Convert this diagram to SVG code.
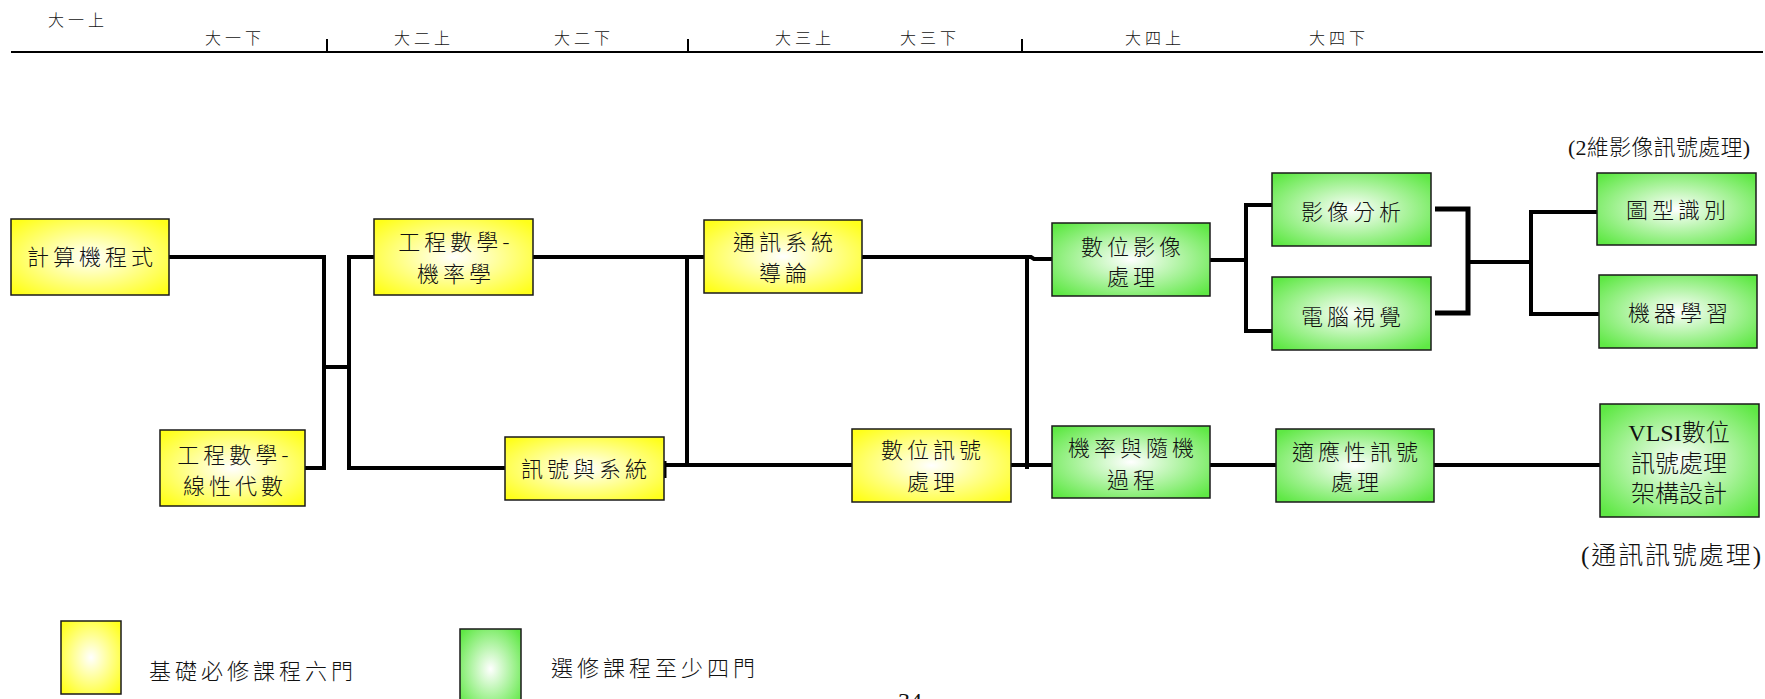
<svg xmlns="http://www.w3.org/2000/svg" width="1765" height="699" viewBox="0 0 1765 699">
<defs>
<radialGradient id="gy" cx="0.5" cy="0.5" r="0.65">
<stop offset="0" stop-color="#ffffff"/>
<stop offset="1" stop-color="#ffff1a"/>
</radialGradient>
<radialGradient id="gg" cx="0.5" cy="0.5" r="0.65">
<stop offset="0" stop-color="#ffffff"/>
<stop offset="1" stop-color="#5fe845"/>
</radialGradient>
</defs>
<style>
.y{fill:url(#gy);stroke:#1a1a1a;stroke-width:1.5}
.g{fill:url(#gg);stroke:#1a1a1a;stroke-width:1.5}
.t{font-family:"Noto Sans CJK TC","Noto Sans CJK SC",sans-serif;font-weight:300;font-size:22px;letter-spacing:4px;text-anchor:middle;fill:#111}
.s{font-family:"Liberation Serif","Noto Sans CJK TC",serif;font-weight:300;font-size:24px;text-anchor:middle;fill:#111}
.h{font-family:"Noto Sans CJK TC","Noto Sans CJK SC",sans-serif;font-weight:300;font-size:16px;letter-spacing:4px;text-anchor:middle;fill:#111}
.n{font-family:"Liberation Serif","Noto Sans CJK TC",serif;font-weight:300;fill:#111}
.c{fill:none;stroke:#000;stroke-width:4;stroke-linejoin:miter;stroke-linecap:butt}
.c5{fill:none;stroke:#000;stroke-width:5}
.tl{fill:none;stroke:#000;stroke-width:2}
</style>
<rect width="1765" height="699" fill="#fff"/>
<g id="timeline">
<path class="tl" d="M11,52 H1763 M327,39 V52 M688,39 V52 M1022,39 V52"/>
<text class="h" x="78" y="26">大一上</text>
<text class="h" x="235" y="44">大一下</text>
<text class="h" x="424" y="44">大二上</text>
<text class="h" x="584" y="44">大二下</text>
<text class="h" x="805" y="44">大三上</text>
<text class="h" x="930" y="44">大三下</text>
<text class="h" x="1155" y="44">大四上</text>
<text class="h" x="1339" y="44">大四下</text>
</g>
<g id="connectors">
<path class="c" d="M169,257 H324 V468 H305"/>
<path class="c" d="M324,367 H349"/>
<path class="c" d="M374,257 H349 V468 H505"/>
<path class="c" d="M533,257 H704"/>
<path class="c" d="M687,257 V467"/>
<path class="c" d="M664,465 H852"/>
<path class="c5" d="M664,461 V478"/>
<path class="c" d="M862,257 H1031 L1034,259 H1052"/>
<path class="c" d="M1027,257 V469"/>
<path class="c" d="M1011,465 H1052"/>
<path class="c" d="M1210,260 H1246"/>
<path class="c" d="M1272,205 H1246 V331 H1272"/>
<path class="c5" d="M1435,209 H1468 V313 H1435"/>
<path class="c" d="M1468,262 H1531"/>
<path class="c" d="M1597,212 H1531 V314 H1599"/>
<path class="c" d="M1210,465 H1276"/>
<path class="c" d="M1434,465 H1600"/>
</g>
<g id="n-calc"><rect class="y" x="11" y="219" width="158" height="76"/><text class="t" x="92" y="265">計算機程式</text></g>
<g id="n-emprob"><rect class="y" x="374" y="219" width="159" height="76"/><text class="t" x="456" y="250">工程數學-</text><text class="t" x="456" y="282">機率學</text></g>
<g id="n-emlin"><rect class="y" x="160" y="430" width="145" height="76"/><text class="t" x="235" y="463">工程數學-</text><text class="t" x="235" y="494">線性代數</text></g>
<g id="n-comm"><rect class="y" x="704" y="220" width="158" height="73"/><text class="t" x="785" y="250">通訊系統</text><text class="t" x="785" y="281">導論</text></g>
<g id="n-sig"><rect class="y" x="505" y="437" width="159" height="63"/><text class="t" x="586" y="477">訊號與系統</text></g>
<g id="n-dsp"><rect class="y" x="852" y="429" width="159" height="73"/><text class="t" x="933" y="458">數位訊號</text><text class="t" x="933" y="490">處理</text></g>
<g id="n-dip"><rect class="g" x="1052" y="223" width="158" height="73"/><text class="t" x="1133" y="255">數位影像</text><text class="t" x="1133" y="285">處理</text></g>
<g id="n-img"><rect class="g" x="1272" y="173" width="159" height="73"/><text class="t" x="1353" y="220">影像分析</text></g>
<g id="n-cv"><rect class="g" x="1272" y="277" width="159" height="73"/><text class="t" x="1353" y="325">電腦視覺</text></g>
<g id="n-pr"><rect class="g" x="1597" y="173" width="159" height="72"/><text class="t" x="1678" y="218">圖型識別</text></g>
<g id="n-ml"><rect class="g" x="1599" y="275" width="158" height="73"/><text class="t" x="1680" y="321">機器學習</text></g>
<g id="n-prob"><rect class="g" x="1052" y="426" width="158" height="72"/><text class="t" x="1133" y="456">機率與隨機</text><text class="t" x="1133" y="488">過程</text></g>
<g id="n-adapt"><rect class="g" x="1276" y="429" width="158" height="73"/><text class="t" x="1357" y="460">適應性訊號</text><text class="t" x="1357" y="490">處理</text></g>
<g id="n-vlsi"><rect class="g" x="1600" y="404" width="159" height="113"/><text class="s" x="1679" y="441">VLSI數位</text><text class="s" x="1679" y="472">訊號處理</text><text class="s" x="1679" y="502">架構設計</text></g>
<g id="labels">
<text class="n" x="1750" y="155" font-size="22" text-anchor="end" textLength="182" lengthAdjust="spacing">(2維影像訊號處理)</text>
<text class="n" x="1761" y="564" font-size="25" text-anchor="end" textLength="180" lengthAdjust="spacing">(通訊訊號處理)</text>
</g>
<g id="legend">
<rect class="y" x="61" y="621" width="60" height="73"/>
<text class="t" x="253" y="679">基礎必修課程六門</text>
<rect class="g" x="460" y="629" width="61" height="80"/>
<text class="t" x="655" y="676">選修課程至少四門</text>
</g>
<text class="n" x="898" y="709" font-size="24">34</text>
</svg>
